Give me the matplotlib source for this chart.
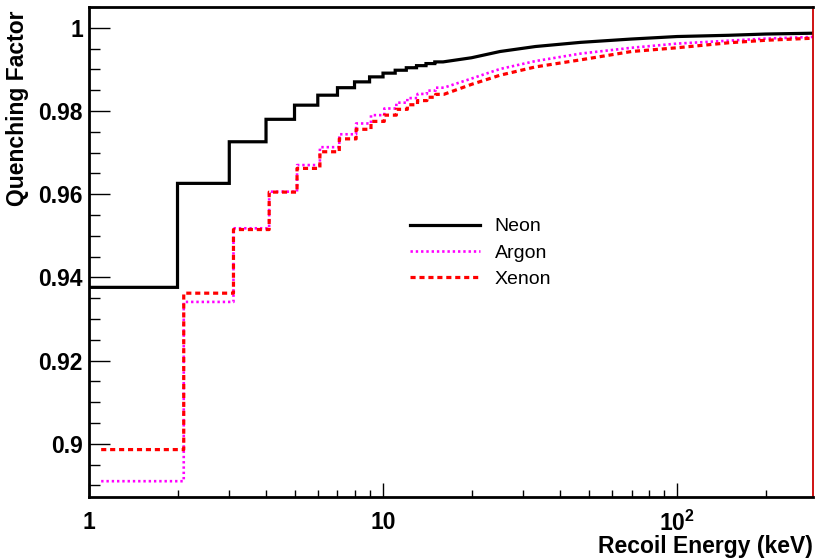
import numpy as np
import matplotlib
matplotlib.use("Agg")
import matplotlib.pyplot as plt
from matplotlib.ticker import FixedLocator, FixedFormatter, MultipleLocator

plt.rcParams['font.family'] = ['Liberation Sans', 'DejaVu Sans']
plt.rcParams['mathtext.fontset'] = 'custom'
plt.rcParams['mathtext.rm'] = 'Liberation Sans'
plt.rcParams['mathtext.bf'] = 'Liberation Sans:bold'

# histogram part (1 keV bins)
neon_edges = [1, 2, 3, 4, 5, 6, 7, 8, 9, 10, 11, 12, 13, 14, 15, 16]
neon_bins = [0.9376, 0.9626, 0.9726, 0.9780, 0.9814, 0.9838, 0.9856, 0.9870,
             0.9882, 0.9891, 0.9898, 0.9904, 0.9909, 0.9914, 0.9918]
argon_edges = [1.1, 2.1, 3.1, 4.1, 5.1, 6.1, 7.1, 8.1, 9.1, 10.1, 11.1, 12.1,
               13.1, 14.1, 15.1, 16.1]
argon_bins = [0.8910, 0.9341, 0.9518, 0.9606, 0.9670, 0.9713, 0.9744, 0.9770,
              0.9790, 0.9806, 0.9820, 0.9831, 0.9841, 0.9849, 0.9856]
xenon_edges = argon_edges
xenon_bins = [0.8986, 0.9362, 0.9515, 0.9605, 0.9662, 0.9702, 0.9733, 0.9756,
              0.9775, 0.9790, 0.9804, 0.9815, 0.9825, 0.9833, 0.9840]

# high energy part, steps too small to see -> read as points
tail_e = [20, 25, 33, 47, 70, 100, 150, 200, 290]
neon_tail = [0.9928, 0.9943, 0.9955, 0.9965, 0.9973, 0.9979, 0.9982, 0.9985, 0.9987]
argon_tail = [0.9878, 0.9901, 0.9920, 0.9938, 0.9952, 0.9962, 0.9969, 0.9974, 0.9978]
xenon_tail = [0.9864, 0.9886, 0.9906, 0.9923, 0.9943, 0.9952, 0.9964, 0.9970, 0.9975]


def curve(edges, vals, tail_x, tail_y):
    # staircase through the bins, then the smooth tail
    xs, ys = [], []
    for i, v in enumerate(vals):
        xs += [edges[i], edges[i + 1]]
        ys += [v, v]
    return xs + list(tail_x), ys + list(tail_y)


fig = plt.figure(figsize=(8.15, 5.59), dpi=100)
ax = fig.add_axes([89 / 815, 1 - 497 / 559, (813 - 89) / 815, (497 - 7) / 559])

x, y = curve(neon_edges, neon_bins, tail_e, neon_tail)
ax.plot(x, y, color='black', lw=2.3, label='Neon', solid_joinstyle='miter')
x, y = curve(argon_edges, argon_bins, tail_e, argon_tail)
ax.plot(x, y, color='#ff00ff', lw=1.9, linestyle=(0, (0.9, 1.1)), label='Argon')
x, y = curve(xenon_edges, xenon_bins, tail_e, xenon_tail)
ax.plot(x, y, color='#ff0000', lw=2.3, linestyle=(0, (1.6, 1.2)), label='Xenon')

ax.set_xscale('log')
ax.set_xlim(1, 290)
ax.set_ylim(0.8872, 1.005)

ax.xaxis.set_major_locator(FixedLocator([1, 10, 100]))
ax.xaxis.set_major_formatter(FixedFormatter(['1', '10', r'$\mathbf{10^{2}}$']))
ax.xaxis.set_minor_locator(FixedLocator([2, 3, 4, 5, 6, 7, 8, 9,
                                         20, 30, 40, 50, 60, 70, 80, 90, 200]))
ax.xaxis.set_minor_formatter(FixedFormatter([]))
ax.yaxis.set_minor_locator(MultipleLocator(0.005))
ax.set_yticks([0.9, 0.92, 0.94, 0.96, 0.98, 1.0])
ax.set_yticklabels(['0.9', '0.92', '0.94', '0.96', '0.98', '1'])

ax.tick_params(axis='both', which='both', direction='in', top=False, right=False,
               width=1.0, color='black')
ax.tick_params(axis='y', which='major', length=15, pad=4.5, labelsize=16.5)
ax.tick_params(axis='y', which='minor', length=8)
ax.tick_params(axis='x', which='major', length=10, pad=10, labelsize=16.5)
ax.tick_params(axis='x', which='minor', length=5)
for lab in ax.get_xticklabels() + ax.get_yticklabels():
    lab.set_fontweight('bold')

for side in ['left', 'bottom', 'top']:
    ax.spines[side].set_linewidth(2.0)
    ax.spines[side].set_color('black')
ax.spines['right'].set_linewidth(1.3)
ax.spines['right'].set_color('#cc0000')

fig.text(18 / 815, 1 - 10 / 559, 'Quenching Factor', rotation=90, ha='center',
         va='top', fontsize=16.5, fontweight='bold')
fig.text(813 / 815, 5.5 / 559, 'Recoil Energy (keV)', ha='right', va='baseline',
         fontsize=16.5, fontweight='bold')

ax.legend(loc='center left', bbox_to_anchor=((410 - 89) / 724, (497 - 253) / 490),
          frameon=False, fontsize=14, handlelength=3.6, handletextpad=0.75,
          labelspacing=0.45, borderpad=0, borderaxespad=0)

fig.savefig('out.png', dpi=100)
